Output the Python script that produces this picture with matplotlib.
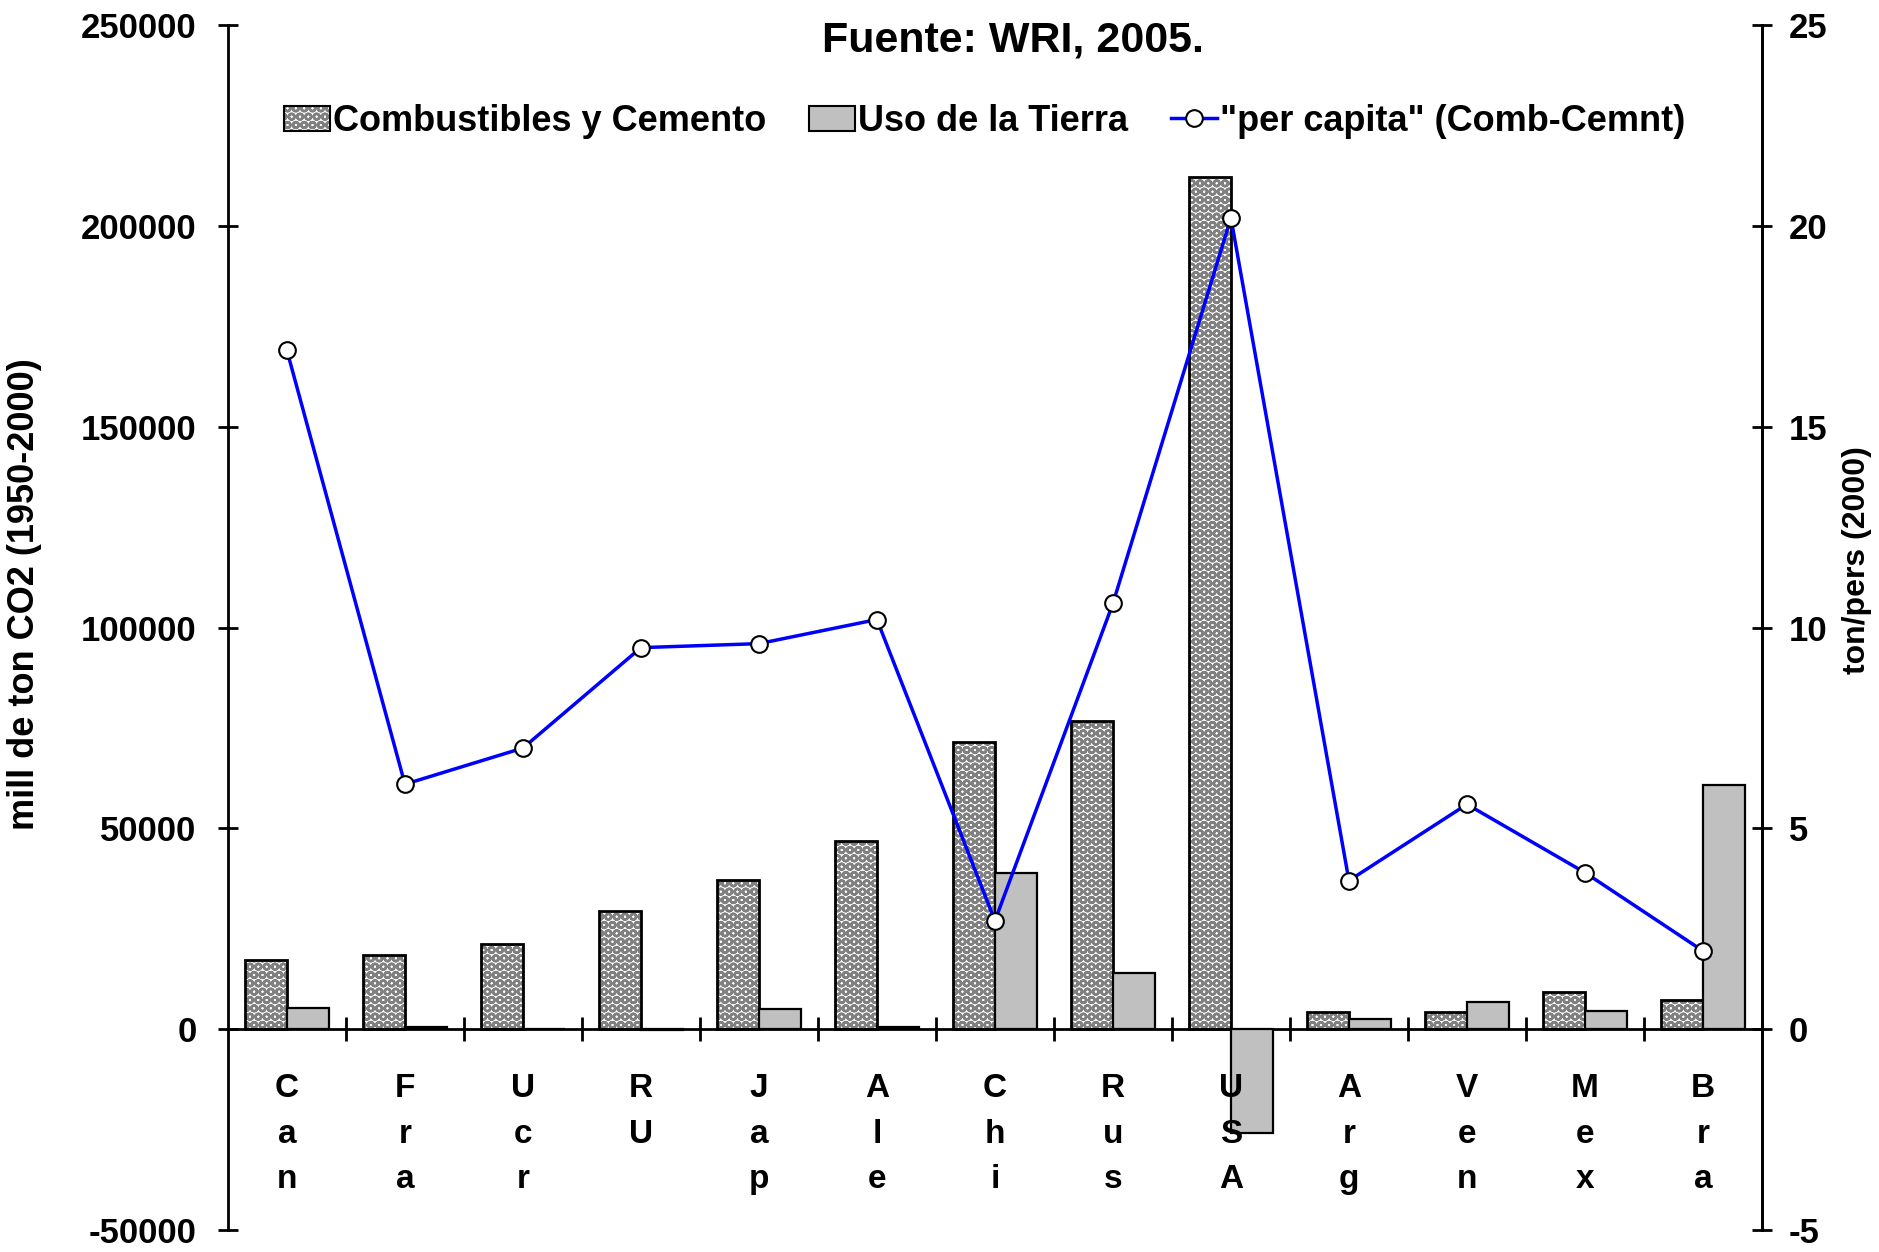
import numpy as np
import matplotlib.pyplot as plt
from matplotlib.patches import Patch
from matplotlib.lines import Line2D
from matplotlib.legend_handler import HandlerTuple

plt.rcParams['font.family'] = 'Liberation Sans'
plt.rcParams['font.weight'] = 'bold'
plt.rcParams['hatch.linewidth'] = 1.8
plt.rcParams['axes.unicode_minus'] = False

paises = ["C\na\nn", "F\nr\na", "U\nc\nr", "R\nU", "J\na\np", "A\nl\ne", "C\nh\ni",
          "R\nu\ns", "U\nS\nA", "A\nr\ng", "V\ne\nn", "M\ne\nx", "B\nr\na"]
combustibles = [17200, 18400, 21100, 29400, 37150, 46900, 71600, 76700, 212200,
                4300, 4300, 9300, 7250]
uso_tierra = [5400, 500, 0, -300, 5050, 500, 38900, 14000, -25900,
              2500, 6800, 4600, 60900]
per_capita = [16.9, 6.1, 7.0, 9.5, 9.6, 10.2, 2.7, 10.6, 20.2, 3.7, 5.6, 3.9, 1.95]

x = np.arange(len(paises))
w = 0.355
trama = '#808080'

fig = plt.figure(figsize=(18.79, 12.52), dpi=100)
ax = fig.add_axes([0.1213, 0.0175, 0.8164, 0.9625])

# barras con trama: relleno + trama gris, luego contorno negro
ax.bar(x - w / 2, combustibles, w, facecolor='white', edgecolor=trama,
       hatch='OO', linewidth=0, zorder=2)
ax.bar(x - w / 2, combustibles, w, facecolor='none', edgecolor='black',
       linewidth=2, zorder=3)
ax.bar(x + w / 2, uso_tierra, w, facecolor='#c0c0c0', edgecolor='black',
       linewidth=1.6, zorder=3)

ax.set_xlim(-0.5, len(paises) - 0.5)
ax.set_ylim(-50000, 250000)
ax.set_yticks(np.arange(-50000, 250001, 50000))
ax.tick_params(axis='y', direction='inout', length=15, width=2, labelsize=25, pad=15)
ax.set_ylabel('mill de ton CO2 (1950-2000)', fontsize=26, fontweight='bold')
ax.yaxis.set_label_coords(-0.121, 0.528)

ax.spines['top'].set_visible(False)
ax.spines['bottom'].set_position(('data', 0))
for s in ['left', 'right', 'bottom']:
    ax.spines[s].set_linewidth(2)

ax.set_xticks(x)
ax.set_xticklabels([])
ax.tick_params(axis='x', which='major', length=0)
ax.set_xticks(np.arange(0.5, len(paises) - 0.5, 1), minor=True)
ax.tick_params(axis='x', which='minor', direction='inout', length=17, width=2)

for xi, lab in zip(x, paises):
    ax.text(xi, -11000, lab, ha='center', va='top', fontsize=24,
            fontweight='bold', linespacing=1.6, zorder=6)

ax2 = ax.twinx()
ax2.plot(x, per_capita, color='#0000ff', linewidth=2.5, marker='o',
         markersize=12, markerfacecolor='white', markeredgecolor='black',
         markeredgewidth=1.5, zorder=5)
ax2.set_ylim(-5, 25)
ax2.set_yticks(np.arange(-5, 26, 5))
ax2.tick_params(axis='y', direction='inout', length=15, width=2, labelsize=25, pad=12)
ax2.set_ylabel('ton/pers (2000)', fontsize=23, fontweight='bold')
ax2.yaxis.set_label_coords(1.052, 0.556)
ax2.spines['top'].set_visible(False)
ax2.spines['bottom'].set_visible(False)
ax2.spines['right'].set_linewidth(2)
ax2.spines['left'].set_visible(False)

fig.text(0.539, 0.968, 'Fuente: WRI, 2005.', ha='center', va='center',
         fontsize=31, fontweight='bold')

h1 = (Patch(facecolor='white', edgecolor=trama, hatch='OO', linewidth=0),
      Patch(facecolor='none', edgecolor='black', linewidth=1.5))
h2 = Patch(facecolor='#c0c0c0', edgecolor='black', linewidth=1.5)
h3 = Line2D([], [], color='#0000ff', linewidth=2.5, marker='o', markersize=12,
            markerfacecolor='white', markeredgecolor='black', markeredgewidth=1.5)
fig.legend([h1, h2, h3],
           ['Combustibles y Cemento', 'Uso de la Tierra', '"per capita" (Comb-Cemnt)'],
           handler_map={tuple: HandlerTuple(ndivide=1)},
           loc='center', bbox_to_anchor=(0.524, 0.903), ncol=3, frameon=False,
           handlelength=1.26, handletextpad=0.08, columnspacing=1.2,
           prop={'weight': 'bold', 'size': 26})

fig.savefig('out.png', dpi=100)
